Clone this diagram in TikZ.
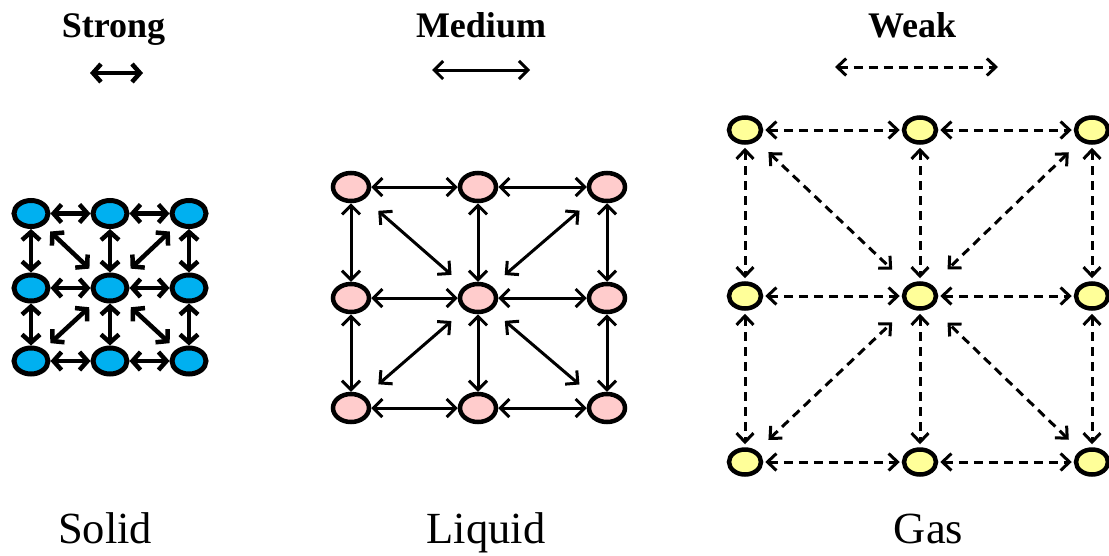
\documentclass[tikz,border=0pt]{standalone}
\usepackage{fontspec}
\setmainfont{Liberation Serif}
\usetikzlibrary{arrows.meta,shapes.geometric}
\definecolor{solidblue}{RGB}{0,176,240}
\definecolor{liqpink}{RGB}{255,204,204}
\definecolor{gasyellow}{RGB}{255,255,153}
\begin{document}
\begin{tikzpicture}[x=1pt,y=-1pt,
  sol/.style={ellipse,draw,line width=5pt,fill=solidblue,minimum width=34pt,minimum height=26pt,inner sep=0pt},
  liq/.style={ellipse,draw,line width=4.5pt,fill=liqpink,minimum width=36pt,minimum height=28pt,inner sep=0pt},
  gasn/.style={ellipse,draw,line width=4.5pt,fill=gasyellow,minimum width=32pt,minimum height=25pt,inner sep=0pt},
  sarr/.style={{Straight Barb[length=8pt,width=18pt,line width=4.5pt]}-{Straight Barb[length=8pt,width=18pt,line width=4.5pt]},line width=4.5pt},
  larr/.style={{Straight Barb[length=9pt,width=18pt,line width=3pt]}-{Straight Barb[length=9pt,width=18pt,line width=3pt]},line width=3pt},
  garr/.style={{Straight Barb[length=9pt,width=17pt,line width=3pt]}-{Straight Barb[length=9pt,width=17pt,line width=3pt]},line width=3pt,dash pattern=on 9pt off 6pt},
  head/.style={font=\bfseries\fontsize{36}{40}\selectfont,anchor=base,inner sep=0pt},
  state/.style={font=\fontsize{44.5}{50}\selectfont,anchor=base,inner sep=0pt}
]
\useasboundingbox (0,0) rectangle (1109,555);
% headings
\node[head] (hs) at (113.5,37) {Strong};
\node[head] (hm) at (481,37) {Medium};
\node[head] (hw) at (912,37) {Weak};
\coordinate (sa) at (90,73); \coordinate (sb) at (143,73);
\coordinate (ma) at (432,70); \coordinate (mb) at (530,70);
\coordinate (wa) at (835,67); \coordinate (wb) at (998,67);
\draw[sarr] (sa) -- (sb);
\draw[larr] (ma) -- (mb);
\draw[garr] (wa) -- (wb);
% solid
\foreach \r/\y in {1/213.5,2/288,3/361}{
  \foreach \c/\x in {1/31,2/110,3/189}{
    \node[sol] (s\r\c) at (\x,\y) {};
  }
}
% liquid
\foreach \r/\y in {1/187,2/298,3/408}{
  \foreach \c/\x in {1/351,2/478,3/607}{
    \node[liq] (l\r\c) at (\x,\y) {};
  }
}
% gas
\foreach \r/\y in {1/130,2/296,3/462}{
  \foreach \c/\x in {1/745,2/920,3/1092}{
    \node[gasn] (g\r\c) at (\x,\y) {};
  }
}
\foreach \i in {1,2,3}{
  \draw[sarr] (s\i1) -- (s\i2); \draw[sarr] (s\i2) -- (s\i3);
  \draw[sarr] (s1\i) -- (s2\i); \draw[sarr] (s2\i) -- (s3\i);
  \draw[larr] (l\i1) -- (l\i2); \draw[larr] (l\i2) -- (l\i3);
  \draw[larr] (l1\i) -- (l2\i); \draw[larr] (l2\i) -- (l3\i);
  \draw[garr,shorten <=2pt,shorten >=2pt] (g\i1) -- (g\i2); \draw[garr,shorten <=2pt,shorten >=2pt] (g\i2) -- (g\i3);
  \draw[garr,shorten <=3pt,shorten >=3pt] (g1\i) -- (g2\i); \draw[garr,shorten <=3pt,shorten >=3pt] (g2\i) -- (g3\i);
}
\foreach \k in {11,13,31,33}{
  \draw[sarr,shorten <=9pt,shorten >=11pt] (s\k) -- (s22);
  \draw[larr,shorten <=18pt,shorten >=17pt] (l\k) -- (l22);
  \draw[garr,shorten <=16pt,shorten >=22pt] (g\k) -- (g22);
}
% state labels
\node[state] (ts) at (105,543) {Solid};
\node[state] (tl) at (486,543) {Liquid};
\node[state] (tg) at (928.5,543) {Gas};
\end{tikzpicture}
\end{document}
